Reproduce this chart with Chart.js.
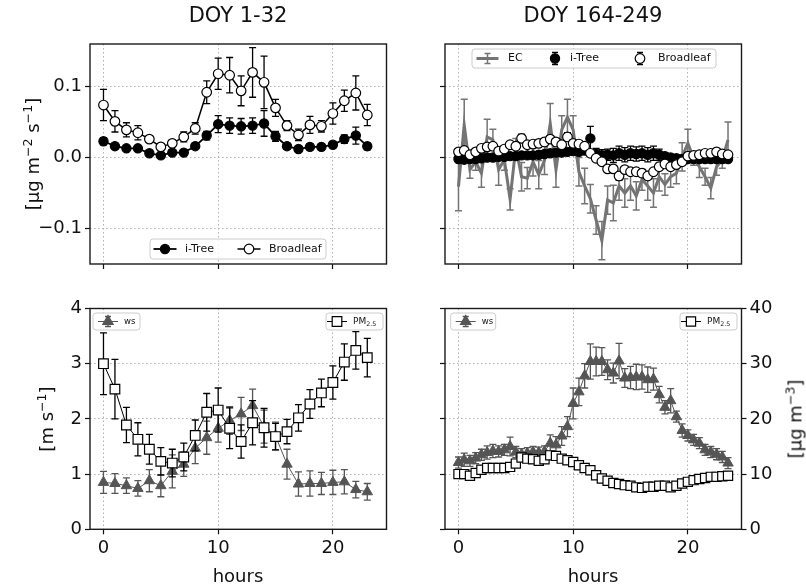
<!DOCTYPE html>
<html>
<head>
<meta charset="utf-8">
<script src="https://cdn.jsdelivr.net/npm/chart.js@4.4.1/dist/chart.umd.min.js"></script>
<style>
  body { margin: 0; background: #fff; width: 806px; height: 586px; position: relative; overflow: hidden;
         font-family: 'DejaVu Sans', sans-serif; color: #111; }
  canvas { position: absolute; }
  .t { position: absolute; white-space: nowrap; font-size: 18px; transform: translate(-50%, -50%); }
  .rot { transform: translate(-50%, -50%) rotate(-90deg); }
  sup { font-size: 0.7em; vertical-align: 0.55em; line-height: 0; }
</style>
</head>
<body>
<canvas id="tl" width="403" height="293" style="left:0;top:0"></canvas>
<canvas id="tr" width="403" height="293" style="left:403px;top:0"></canvas>
<canvas id="bl" width="403" height="293" style="left:0;top:293px"></canvas>
<canvas id="br" width="403" height="293" style="left:403px;top:293px"></canvas>

<div class="t" style="left:238px;top:15px;font-size:21px">DOY 1-32</div>
<div class="t" style="left:593px;top:15px;font-size:21px">DOY 164-249</div>
<div class="t rot" style="left:32px;top:154px">[µg m<sup>−2</sup> s<sup>−1</sup>]</div>
<div class="t rot" style="left:46px;top:419px">[m s<sup>−1</sup>]</div>
<div class="t rot" style="left:795px;top:419px">[µg m<sup>−3</sup>]</div>
<div class="t" style="left:238px;top:575px">hours</div>
<div class="t" style="left:593px;top:575px">hours</div>

<script>
// ---- data ----
const xTicks = [0, 10, 20];
const fluxTicks = [-0.1, 0, 0.1];
const wsTicks = [0, 1, 2, 3, 4];
const pmTicks = [0, 10, 20, 30, 40];

// DOY 1-32, hourly
const hoursWinter = [0, 1, 2, 3, 4, 5, 6, 7, 8, 9, 10, 11, 12, 13, 14, 15, 16, 17, 18, 19, 20, 21, 22, 23];
const treeWinter = [0.023, 0.016, 0.013, 0.013, 0.006, 0.003, 0.007, 0.007, 0.016, 0.031, 0.047, 0.045,
                    0.044, 0.045, 0.048, 0.030, 0.016, 0.012, 0.015, 0.015, 0.018, 0.026, 0.031, 0.016];
const treeWinterErr = [0.005, 0.004, 0.003, 0.003, 0.003, 0.002, 0.003, 0.003, 0.004, 0.006, 0.012, 0.011,
                       0.011, 0.011, 0.018, 0.007, 0.004, 0.003, 0.004, 0.004, 0.004, 0.006, 0.012, 0.005];
const broadWinter = [0.074, 0.051, 0.039, 0.035, 0.026, 0.015, 0.020, 0.029, 0.041, 0.092, 0.118, 0.116,
                     0.094, 0.120, 0.106, 0.070, 0.045, 0.032, 0.046, 0.044, 0.062, 0.080, 0.091, 0.060];
const broadWinterErr = [0.022, 0.015, 0.010, 0.010, 0.004, 0.003, 0.004, 0.007, 0.008, 0.016, 0.022, 0.025,
                        0.021, 0.035, 0.037, 0.012, 0.007, 0.008, 0.012, 0.008, 0.015, 0.015, 0.024, 0.015];
const wsWinter = [0.85, 0.83, 0.79, 0.74, 0.88, 0.79, 1.05, 1.18, 1.47, 1.66, 1.83, 1.97,
                  2.09, 2.24, 1.86, 1.69, 1.18, 0.82, 0.83, 0.83, 0.85, 0.86, 0.72, 0.68];
const wsWinterErr = [0.20, 0.18, 0.14, 0.14, 0.20, 0.20, 0.30, 0.22, 0.28, 0.30, 0.25, 0.25,
                     0.30, 0.30, 0.30, 0.25, 0.27, 0.22, 0.23, 0.20, 0.22, 0.22, 0.15, 0.15];
const pmWinter = [3.00, 2.54, 1.89, 1.63, 1.45, 1.23, 1.20, 1.31, 1.70, 2.12, 2.16, 1.83,
                  1.59, 1.93, 1.84, 1.68, 1.77, 2.02, 2.27, 2.47, 2.66, 3.03, 3.24, 3.11];
const pmWinterErr = [0.56, 0.54, 0.32, 0.30, 0.27, 0.25, 0.25, 0.25, 0.28, 0.34, 0.40, 0.37,
                     0.30, 0.40, 0.35, 0.24, 0.22, 0.24, 0.26, 0.25, 0.30, 0.33, 0.34, 0.35];

// DOY 164-249, half-hourly
const hoursSummer = [0, 0.5, 1, 1.5, 2, 2.5, 3, 3.5, 4, 4.5, 5, 5.5, 6, 6.5, 7, 7.5, 8, 8.5, 9, 9.5, 10, 10.5, 11, 11.5,
                     12, 12.5, 13, 13.5, 14, 14.5, 15, 15.5, 16, 16.5, 17, 17.5, 18, 18.5, 19, 19.5, 20, 20.5, 21, 21.5, 22, 22.5, 23, 23.5];
const ecSummer = [-0.041, 0.046, -0.017, -0.006, -0.022, 0.029, 0.025, -0.017, -0.003, -0.059, 0.015, -0.027,
                  -0.029, -0.006, -0.024, -0.004, 0.048, -0.017, 0.039, 0.057, 0.039, -0.020, -0.040, -0.058,
                  -0.088, -0.117, -0.060, -0.064, -0.040, -0.050, -0.040, -0.054, -0.031, -0.040, -0.050, -0.027,
                  -0.038, -0.027, -0.022, 0.001, 0.020, -0.001, -0.013, -0.027, -0.043, -0.013, -0.003, 0.025];
const ecSummerErr = [0.034, 0.036, 0.012, 0.012, 0.020, 0.025, 0.015, 0.022, 0.015, 0.015, 0.012, 0.020,
                     0.015, 0.020, 0.020, 0.020, 0.028, 0.025, 0.020, 0.025, 0.020, 0.020, 0.025, 0.020,
                     0.020, 0.027, 0.020, 0.025, 0.020, 0.020, 0.020, 0.020, 0.015, 0.020, 0.020, 0.020,
                     0.015, 0.015, 0.015, 0.020, 0.020, 0.010, 0.015, 0.012, 0.015, 0.012, 0.012, 0.025];
const treeSummer = [-0.002, -0.003, -0.002, -0.002, -0.001, 0.000, 0.000, 0.001, 0.001, 0.002, 0.002, 0.003,
                    0.003, 0.003, 0.004, 0.005, 0.006, 0.007, 0.007, 0.008, 0.009, 0.008, 0.010, 0.027,
                    0.005, 0.003, 0.004, 0.003, 0.006, 0.004, 0.006, 0.005, 0.006, 0.004, 0.006, 0.004,
                    0.002, 0.000, -0.001, -0.002, -0.002, -0.002, -0.002, -0.002, -0.002, -0.002, -0.002, -0.002];
const treeSummerErr = [0.004, 0.004, 0.004, 0.004, 0.004, 0.004, 0.004, 0.004, 0.004, 0.004, 0.004, 0.004,
                       0.004, 0.004, 0.004, 0.004, 0.004, 0.004, 0.004, 0.004, 0.004, 0.004, 0.005, 0.017,
                       0.008, 0.008, 0.008, 0.010, 0.010, 0.010, 0.010, 0.010, 0.010, 0.010, 0.010, 0.008,
                       0.005, 0.004, 0.004, 0.003, 0.003, 0.003, 0.003, 0.003, 0.003, 0.003, 0.003, 0.003];
const broadSummer = [0.008, 0.010, 0.004, 0.008, 0.013, 0.015, 0.016, 0.009, 0.012, 0.018, 0.016, 0.027,
                     0.018, 0.019, 0.020, 0.022, 0.026, 0.022, 0.018, 0.029, 0.020, 0.019, 0.016, 0.006,
                     -0.001, -0.006, -0.016, -0.016, -0.026, -0.017, -0.020, -0.020, -0.022, -0.026, -0.020, -0.013,
                     -0.009, -0.013, -0.010, -0.006, 0.002, 0.003, 0.004, 0.006, 0.006, 0.008, 0.005, 0.004];
const broadSummerErr = [0.004, 0.004, 0.004, 0.004, 0.004, 0.004, 0.004, 0.004, 0.004, 0.004, 0.004, 0.006,
                        0.004, 0.004, 0.004, 0.004, 0.004, 0.004, 0.004, 0.006, 0.004, 0.004, 0.004, 0.004,
                        0.004, 0.004, 0.004, 0.004, 0.006, 0.004, 0.004, 0.004, 0.004, 0.004, 0.004, 0.004,
                        0.004, 0.004, 0.004, 0.004, 0.004, 0.004, 0.004, 0.004, 0.004, 0.004, 0.004, 0.004];
const wsSummer = [12.1, 12.6, 12.4, 12.9, 13.5, 13.9, 14.2, 14.1, 14.4, 15.0, 14.0, 13.6,
                  13.8, 14.0, 13.9, 14.1, 15.6, 15.3, 16.9, 18.6, 22.8, 24.9, 27.8, 30.4,
                  30.4, 30.4, 28.9, 28.3, 30.5, 27.4, 27.5, 27.6, 27.6, 27.1, 27.2, 24.4,
                  22.1, 23.3, 20.4, 17.9, 17.0, 16.2, 15.6, 14.4, 14.0, 13.6, 13.1, 12.0];
const wsSummerErr = [1.0, 1.2, 1.0, 1.0, 1.0, 1.2, 1.2, 1.0, 1.0, 1.7, 1.0, 1.0,
                     1.0, 1.0, 1.0, 1.0, 1.5, 1.5, 1.7, 1.8, 2.8, 2.5, 2.2, 3.2,
                     2.6, 2.5, 1.8, 1.8, 3.2, 1.7, 2.0, 2.3, 2.2, 2.3, 2.0, 1.5,
                     1.2, 2.2, 1.0, 1.2, 1.0, 1.0, 1.0, 1.0, 1.0, 1.0, 1.0, 1.0];
const pmSummer = [10.0, 10.0, 9.7, 10.2, 10.8, 11.1, 11.1, 11.1, 11.1, 11.3, 11.9, 13.0,
                  12.8, 12.7, 12.4, 12.7, 13.4, 13.3, 12.8, 12.5, 12.2, 11.6, 11.1, 10.7,
                  9.8, 9.2, 8.8, 8.4, 8.2, 8.0, 7.9, 7.6, 7.5, 7.7, 7.7, 7.9,
                  7.9, 7.6, 7.9, 8.3, 8.6, 8.9, 9.1, 9.3, 9.5, 9.5, 9.6, 9.7];
const pmSummerErr = [0.5, 0.5, 0.5, 0.5, 0.5, 0.5, 0.5, 0.5, 0.5, 0.5, 0.6, 0.6,
                     0.5, 0.5, 0.5, 0.5, 0.6, 0.5, 0.5, 0.5, 0.5, 0.5, 0.5, 0.5,
                     0.5, 0.5, 0.5, 0.5, 0.5, 0.5, 0.5, 0.5, 0.5, 0.5, 0.5, 0.5,
                     0.5, 0.5, 0.5, 0.5, 0.5, 0.5, 0.5, 0.5, 0.5, 0.5, 0.5, 0.5];

// ---- style ----
const FONT = "'DejaVu Sans', sans-serif";
const INK = '#111';
const GRID = '#b0b0b0';
const EC_GREY = '#747474';
const WS_GREY = '#555';

function pts(xs, ys) { return xs.map((x, i) => ({ x: x, y: ys[i] })); }
function fixedTicks(list) { return scale => { scale.ticks = list.map(v => ({ value: v })); }; }
function fmtFlux(v) { return v.toFixed(1).replace('-', '\u2212'); }

function xAxis(showLabels, h) {
  return {
    type: 'linear', min: -1.175, max: 24.675,
    afterBuildTicks: fixedTicks(xTicks),
    afterFit: s => { s.height = h; },
    ticks: { display: showLabels, color: INK, padding: 3, maxRotation: 0, font: { family: FONT, size: 18 },
             callback: v => String(v) },
    grid: { color: GRID, lineWidth: 1, tickColor: INK, tickLength: 5, tickWidth: 1.2 },
    border: { display: false, dash: [1.5, 2.5] }
  };
}

function yAxis(pos, min, max, list, showLabels, w, fmt, onArea) {
  return {
    type: 'linear', position: pos, min: min, max: max,
    afterBuildTicks: fixedTicks(list),
    afterFit: s => { s.width = w; },
    ticks: { display: showLabels, color: INK, padding: 3, font: { family: FONT, size: 18 }, callback: fmt },
    grid: { color: GRID, lineWidth: 1, tickColor: INK, tickLength: 5, tickWidth: 1.2, drawOnChartArea: onArea },
    border: { display: false, dash: [1.5, 2.5] }
  };
}

function drawMarker(ctx, style, x, y, r, fill, edge, bw) {
  ctx.beginPath();
  if (style === 'circle') {
    ctx.arc(x, y, r, 0, Math.PI * 2);
  } else if (style === 'rect') {
    const s = r * Math.SQRT1_2;
    ctx.rect(x - s, y - s, 2 * s, 2 * s);
  } else {
    ctx.moveTo(x, y - r);
    ctx.lineTo(x + r * 0.866, y + r * 0.5);
    ctx.lineTo(x - r * 0.866, y + r * 0.5);
    ctx.closePath();
  }
  ctx.fillStyle = fill; ctx.fill();
  ctx.strokeStyle = edge; ctx.lineWidth = bw; ctx.stroke();
}

function errLine(ctx, x, y1, y2, cap) {
  ctx.beginPath();
  ctx.moveTo(x, y1); ctx.lineTo(x, y2);
  ctx.moveTo(x - cap, y1); ctx.lineTo(x + cap, y1);
  ctx.moveTo(x - cap, y2); ctx.lineTo(x + cap, y2);
  ctx.stroke();
}

// error bars under each dataset's markers
const errorBars = {
  id: 'errorBars',
  beforeDatasetDraw(chart, args) {
    const ds = chart.data.datasets[args.index];
    if (!ds.errors) return;
    const yScale = chart.scales[args.meta.yAxisID];
    const ctx = chart.ctx;
    ctx.save();
    ctx.strokeStyle = ds.errorColor;
    ctx.lineWidth = ds.errorWidth;
    args.meta.data.forEach((p, i) => {
      const v = ds.data[i].y, e = ds.errors[i];
      errLine(ctx, p.x, yScale.getPixelForValue(v + e), yScale.getPixelForValue(v - e), ds.capHalf);
    });
    ctx.restore();
  }
};

const frame = {
  id: 'frame',
  afterDatasetsDraw(chart) {
    const a = chart.chartArea, ctx = chart.ctx;
    ctx.save();
    ctx.strokeStyle = '#1a1a1a';
    ctx.lineWidth = 1.4;
    ctx.strokeRect(a.left, a.top, a.right - a.left, a.bottom - a.top);
    ctx.restore();
  }
};

const panelLegend = {
  id: 'panelLegend',
  afterDraw(chart, args, o) {
    const ctx = chart.ctx, a = chart.chartArea;
    (o.boxes || []).forEach(b => {
      const x = a.left + b.x, y = a.top + b.y, cy = y + b.h / 2;
      ctx.save();
      ctx.beginPath();
      if (ctx.roundRect) ctx.roundRect(x, y, b.w, b.h, 3); else ctx.rect(x, y, b.w, b.h);
      ctx.fillStyle = 'rgba(255,255,255,0.85)'; ctx.fill();
      ctx.strokeStyle = '#cccccc'; ctx.lineWidth = 1; ctx.stroke();
      b.items.forEach(it => {
        const hx = x + it.hx;
        ctx.strokeStyle = it.color; ctx.lineWidth = it.lw;
        if (it.line) {
          ctx.beginPath(); ctx.moveTo(hx - b.hl / 2, cy); ctx.lineTo(hx + b.hl / 2, cy); ctx.stroke();
        }
        if (it.err) {
          ctx.lineWidth = it.elw || 1.3; ctx.strokeStyle = it.ecolor || it.color;
          errLine(ctx, hx, cy - it.err, cy + it.err, 3);
        }
        if (it.marker) drawMarker(ctx, it.marker, hx, cy, it.r, it.fill, it.edge, 1.2);
        ctx.fillStyle = INK;
        ctx.textBaseline = 'middle';
        ctx.font = b.size + 'px ' + FONT;
        ctx.fillText(it.label, x + it.tx, cy);
        if (it.sub) {
          const w = ctx.measureText(it.label).width;
          ctx.font = (b.size * 0.7) + 'px ' + FONT;
          ctx.fillText(it.sub, x + it.tx + w, cy + b.size * 0.28);
        }
      });
      ctx.restore();
    });
  }
};

function makeChart(id, datasets, scales, padding, boxes) {
  return new Chart(document.getElementById(id), {
    type: 'line',
    data: { datasets: datasets },
    options: {
      responsive: false, animation: false, devicePixelRatio: 1,
      layout: { padding: padding },
      scales: scales,
      elements: { line: { tension: 0 } },
      plugins: { legend: { display: false }, tooltip: { enabled: false }, panelLegend: { boxes: boxes } }
    },
    plugins: [errorBars, frame, panelLegend]
  });
}

// ---- DOY 1-32 fluxes ----
makeChart('tl', [
  { label: 'i-Tree', data: pts(hoursWinter, treeWinter), errors: treeWinterErr, errorColor: '#000', errorWidth: 1.3, capHalf: 3.5,
    borderColor: '#000', borderWidth: 1.8, pointStyle: 'circle', pointRadius: 4.6, pointBorderWidth: 1.2,
    pointBackgroundColor: '#000', pointBorderColor: '#000', order: 2 },
  { label: 'Broadleaf', data: pts(hoursWinter, broadWinter), errors: broadWinterErr, errorColor: '#000', errorWidth: 1.3, capHalf: 3.5,
    borderColor: '#000', borderWidth: 1.5, pointStyle: 'circle', pointRadius: 4.8, pointBorderWidth: 1.2,
    pointBackgroundColor: '#fff', pointBorderColor: '#000', order: 1 }
], {
  x: xAxis(false, 29),
  y: yAxis('left', -0.15, 0.16, fluxTicks, true, 90, fmtFlux, true)
}, { left: 0, top: 44, right: 16.5, bottom: 0 }, [
  { x: 60, y: 195, w: 176, h: 20, hl: 23, size: 11, items: [
    { label: 'i-Tree', hx: 15, tx: 35, line: true, color: '#000', lw: 1.8, marker: 'circle', r: 4.6, fill: '#000', edge: '#000' },
    { label: 'Broadleaf', hx: 99, tx: 119, line: true, color: '#000', lw: 1.5, marker: 'circle', r: 4.8, fill: '#fff', edge: '#000' }
  ] }
]);

// ---- DOY 164-249 fluxes ----
makeChart('tr', [
  { label: 'EC', data: pts(hoursSummer, ecSummer), errors: ecSummerErr, errorColor: EC_GREY, errorWidth: 1.5, capHalf: 3.5,
    borderColor: EC_GREY, borderWidth: 3, pointRadius: 0, order: 3 },
  { label: 'i-Tree', data: pts(hoursSummer, treeSummer), errors: treeSummerErr, errorColor: '#000', errorWidth: 1.3, capHalf: 3.5,
    showLine: false, pointStyle: 'circle', pointRadius: 4.6, pointBorderWidth: 1.2,
    pointBackgroundColor: '#000', pointBorderColor: '#000', order: 2 },
  { label: 'Broadleaf', data: pts(hoursSummer, broadSummer), errors: broadSummerErr, errorColor: '#000', errorWidth: 1.3, capHalf: 3.5,
    showLine: false, pointStyle: 'circle', pointRadius: 4.8, pointBorderWidth: 1.2,
    pointBackgroundColor: '#fff', pointBorderColor: '#000', order: 1 }
], {
  x: xAxis(false, 29),
  y: yAxis('left', -0.15, 0.16, fluxTicks, false, 42, fmtFlux, true)
}, { left: 0, top: 44, right: 64.5, bottom: 0 }, [
  { x: 27, y: 5, w: 244, h: 19, hl: 22, size: 11, items: [
    { label: 'EC', hx: 15.5, tx: 36, line: true, color: EC_GREY, lw: 3, err: 5, elw: 1.5 },
    { label: 'i-Tree', hx: 83, tx: 98, color: '#000', lw: 1.3, err: 6, marker: 'circle', r: 4.6, fill: '#000', edge: '#000' },
    { label: 'Broadleaf', hx: 168, tx: 186, color: '#000', lw: 1.3, err: 6, marker: 'circle', r: 4.8, fill: '#fff', edge: '#000' }
  ] }
]);

// ---- DOY 1-32 wind speed and PM2.5 ----
makeChart('bl', [
  { label: 'ws', data: pts(hoursWinter, wsWinter), errors: wsWinterErr, errorColor: WS_GREY, errorWidth: 1.3, capHalf: 3.5,
    borderColor: WS_GREY, borderWidth: 1, pointStyle: 'triangle', pointRadius: 6, pointBorderWidth: 1,
    pointBackgroundColor: WS_GREY, pointBorderColor: WS_GREY, order: 2 },
  { label: 'PM2.5', data: pts(hoursWinter, pmWinter), errors: pmWinterErr, errorColor: '#000', errorWidth: 1.3, capHalf: 3.5,
    borderColor: '#000', borderWidth: 1, pointStyle: 'rect', pointRadius: 6.8, pointBorderWidth: 1.2,
    pointBackgroundColor: '#fff', pointBorderColor: '#000', order: 1 }
], {
  x: xAxis(true, 56.7),
  y: yAxis('left', 0, 4, wsTicks, true, 90, v => String(v), true)
}, { left: 0, top: 15.5, right: 16.5, bottom: 0 }, [
  { x: 3, y: 4.5, w: 47, h: 17, hl: 20, size: 8.5, items: [
    { label: 'ws', hx: 15, tx: 31, line: true, color: WS_GREY, lw: 1, err: 5, marker: 'triangle', r: 6, fill: WS_GREY, edge: WS_GREY }
  ] },
  { x: 236, y: 4.5, w: 57, h: 17, hl: 20, size: 9, items: [
    { label: 'PM', sub: '2.5', hx: 11, tx: 27, line: true, color: '#000', lw: 1, marker: 'rect', r: 6.8, fill: '#fff', edge: '#000' }
  ] }
]);

// ---- DOY 164-249 wind speed and PM2.5 ----
makeChart('br', [
  { label: 'ws', data: pts(hoursSummer, wsSummer), errors: wsSummerErr, errorColor: WS_GREY, errorWidth: 1.3, capHalf: 3.5,
    yAxisID: 'yr', borderColor: WS_GREY, borderWidth: 1, pointStyle: 'triangle', pointRadius: 6, pointBorderWidth: 1,
    pointBackgroundColor: WS_GREY, pointBorderColor: WS_GREY, order: 2 },
  { label: 'PM2.5', data: pts(hoursSummer, pmSummer), errors: pmSummerErr, errorColor: '#000', errorWidth: 1.3, capHalf: 3.5,
    yAxisID: 'yr', borderColor: '#000', borderWidth: 1, pointStyle: 'rect', pointRadius: 6.5, pointBorderWidth: 1.2,
    pointBackgroundColor: '#fff', pointBorderColor: '#000', order: 1 }
], {
  x: xAxis(true, 56.7),
  yl: yAxis('left', 0, 40, pmTicks, false, 42, v => String(v), true),
  yr: yAxis('right', 0, 40, pmTicks, true, 64.5, v => String(v), false)
}, { left: 0, top: 15.5, right: 0, bottom: 0 }, [
  { x: 5.7, y: 4.5, w: 45, h: 17, hl: 20, size: 8.5, items: [
    { label: 'ws', hx: 15, tx: 31, line: true, color: WS_GREY, lw: 1, err: 5, marker: 'triangle', r: 6, fill: WS_GREY, edge: WS_GREY }
  ] },
  { x: 235, y: 4.5, w: 57, h: 17, hl: 20, size: 9, items: [
    { label: 'PM', sub: '2.5', hx: 11, tx: 27, line: true, color: '#000', lw: 1, marker: 'rect', r: 6.5, fill: '#fff', edge: '#000' }
  ] }
]);
</script>
</body>
</html>
